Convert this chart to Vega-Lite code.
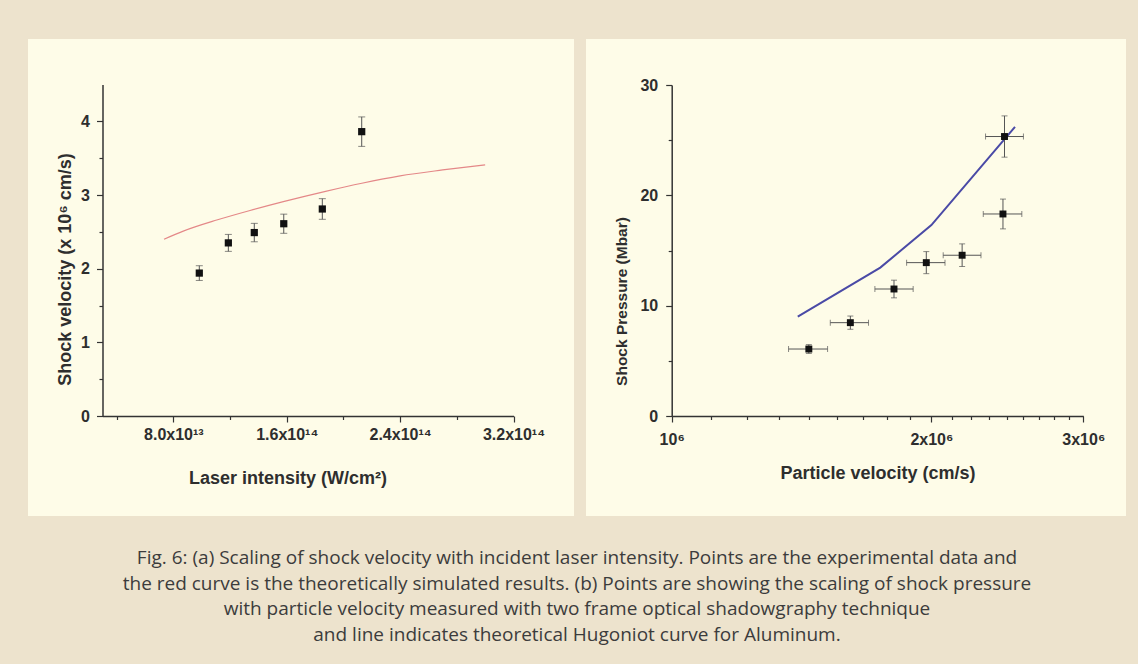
{
  "$schema": "https://vega.github.io/schema/vega-lite/v6.json",
  "background": "#ede3cd",
  "padding": {"left": 28, "top": 39, "right": 12, "bottom": 19},
  "spacing": 12,
  "title": {
    "text": [
      "Fig. 6: (a) Scaling of shock velocity with incident laser intensity. Points are the experimental data and",
      "the red curve is the theoretically simulated results. (b) Points are showing the scaling of shock pressure",
      "with particle velocity measured with two frame optical shadowgraphy technique",
      "and line indicates theoretical Hugoniot curve for Aluminum."
    ],
    "orient": "bottom",
    "anchor": "middle",
    "font": "Open Sans",
    "fontSize": 19,
    "fontWeight": "normal",
    "color": "#3c3c3c",
    "lineHeight": 25.5,
    "offset": 33
  },
  "config": {
    "view": {"fill": "#fefce8", "stroke": null},
    "axis": {
      "grid": false,
      "domainColor": "#333333",
      "domainWidth": 1.5,
      "tickColor": "#333333",
      "tickWidth": 1.2,
      "labelFont": "Liberation Sans",
      "labelFontWeight": "bold",
      "labelColor": "#2e2e2e",
      "labelFlush": false,
      "labelOverlap": false,
      "labelBound": false,
      "titleFont": "Liberation Sans",
      "titleFontWeight": "bold",
      "titleColor": "#2e2e2e"
    }
  },
  "datasets": {
    "sim": [
      {"I": 7.34e13, "V": 2.40},
      {"I": 8.7e13, "V": 2.51},
      {"I": 1.106e14, "V": 2.66},
      {"I": 1.341e14, "V": 2.79},
      {"I": 1.576e14, "V": 2.91},
      {"I": 1.874e14, "V": 3.05},
      {"I": 2.13e14, "V": 3.16},
      {"I": 2.4e14, "V": 3.26},
      {"I": 2.7e14, "V": 3.34},
      {"I": 3.0e14, "V": 3.41}
    ],
    "expA": [
      {"I": 9.83e13, "V": 1.94, "Vlo": 1.84, "Vhi": 2.04},
      {"I": 1.188e14, "V": 2.35, "Vlo": 2.235, "Vhi": 2.465},
      {"I": 1.371e14, "V": 2.49, "Vlo": 2.365, "Vhi": 2.615},
      {"I": 1.579e14, "V": 2.61, "Vlo": 2.48, "Vhi": 2.74},
      {"I": 1.851e14, "V": 2.81, "Vlo": 2.67, "Vhi": 2.95},
      {"I": 2.129e14, "V": 3.86, "Vlo": 3.66, "Vhi": 4.06}
    ],
    "hug": [
      {"U": 1400000, "P": 9.0},
      {"U": 1745000, "P": 13.45},
      {"U": 2000000, "P": 17.3},
      {"U": 2500000, "P": 26.2}
    ],
    "expB": [
      {"U": 1442000, "Ulo": 1366000, "Uhi": 1516000, "P": 6.07, "Plo": 5.67, "Phi": 6.47},
      {"U": 1611000, "Ulo": 1527000, "Uhi": 1691000, "P": 8.46, "Plo": 7.86, "Phi": 9.06},
      {"U": 1810000, "Ulo": 1720000, "Uhi": 1905000, "P": 11.51, "Plo": 10.71, "Phi": 12.31},
      {"U": 1973000, "Ulo": 1872000, "Uhi": 2074000, "P": 13.9, "Plo": 12.9, "Phi": 14.9},
      {"U": 2171000, "Ulo": 2064000, "Uhi": 2283000, "P": 14.57, "Plo": 13.55, "Phi": 15.6},
      {"U": 2421000, "Ulo": 2297000, "Uhi": 2546000, "P": 18.31, "Plo": 16.96, "Phi": 19.66},
      {"U": 2431000, "Ulo": 2311000, "Uhi": 2557000, "P": 25.33, "Plo": 23.46, "Phi": 27.2}
    ]
  },
  "hconcat": [
    {
      "width": 546,
      "height": 477,
      "layer": [
        {
          "data": {"name": "sim"},
          "mark": {"type": "line", "color": "#e48888", "strokeWidth": 1.2, "interpolate": "monotone"},
          "encoding": {
            "x": {
              "field": "I", "type": "quantitative", "title": "Laser intensity (W/cm²)",
              "scale": {"domain": [3e13, 3.2e14], "range": [74.5, 485.5], "nice": false, "zero": false},
              "axis": {
                "orient": "bottom", "offset": -100,
                "values": [4e13, 8e13, 1.2e14, 1.6e14, 2e14, 2.4e14, 2.8e14, 3.2e14],
                "labelExpr": "datum.value == 8e13 ? '8.0x10¹³' : datum.value == 1.6e14 ? '1.6x10¹⁴' : datum.value == 2.4e14 ? '2.4x10¹⁴' : datum.value == 3.2e14 ? '3.2x10¹⁴' : ''",
                "tickSize": {"condition": {"test": "datum.value == 8e13 || datum.value == 1.6e14 || datum.value == 2.4e14 || datum.value == 3.2e14", "value": 6}, "value": 3.5},
                "labelFontSize": 16, "labelPadding": 4,
                "titleFontSize": 18, "titlePadding": 27, "titleX": 259.5
              }
            },
            "y": {
              "field": "V", "type": "quantitative", "title": "Shock velocity (x 10⁶ cm/s)",
              "scale": {"domain": [0, 4.5], "range": [377, 45.5], "nice": false, "zero": false},
              "axis": {
                "orient": "left", "offset": -74.5,
                "values": [0, 0.5, 1, 1.5, 2, 2.5, 3, 3.5, 4],
                "labelExpr": "datum.value % 1 === 0 ? format(datum.value, 'd') : ''",
                "tickSize": {"condition": {"test": "datum.value % 1 === 0", "value": 6}, "value": 3.5},
                "labelFontSize": 16, "labelPadding": 7,
                "titleFontSize": 18, "titlePadding": 6, "titleY": 230
              }
            }
          }
        },
        {
          "mark": {"type": "rule", "color": "#333333", "strokeWidth": 1.5},
          "encoding": {
            "x": {"datum": 3e13, "type": "quantitative", "title": "Laser intensity (W/cm²)"},
            "x2": {"datum": 3.2e14},
            "y": {"datum": 4.5, "type": "quantitative", "title": "Shock velocity (x 10⁶ cm/s)"}
          }
        },
        {
          "mark": {"type": "rule", "color": "#333333", "strokeWidth": 1.5},
          "encoding": {
            "x": {"datum": 3.2e14, "type": "quantitative", "title": "Laser intensity (W/cm²)"},
            "y": {"datum": 0, "type": "quantitative", "title": "Shock velocity (x 10⁶ cm/s)"},
            "y2": {"datum": 4.5}
          }
        },
        {
          "data": {"name": "expA"},
          "mark": {"type": "errorbar", "color": "#555555", "thickness": 1, "ticks": {"size": 7, "thickness": 1}},
          "encoding": {
            "x": {"field": "I", "type": "quantitative", "title": "Laser intensity (W/cm²)"},
            "y": {"field": "Vlo", "type": "quantitative", "title": "Shock velocity (x 10⁶ cm/s)"},
            "y2": {"field": "Vhi"}
          }
        },
        {
          "data": {"name": "expA"},
          "mark": {"type": "square", "size": 52, "filled": true, "color": "#111111", "opacity": 1},
          "encoding": {
            "x": {"field": "I", "type": "quantitative", "title": "Laser intensity (W/cm²)"},
            "y": {"field": "V", "type": "quantitative", "title": "Shock velocity (x 10⁶ cm/s)"}
          }
        }
      ]
    },
    {
      "width": 540,
      "height": 477,
      "layer": [
        {
          "data": {"name": "hug"},
          "mark": {"type": "line", "color": "#4a4aa6", "strokeWidth": 2},
          "encoding": {
            "x": {
              "field": "U", "type": "quantitative", "title": "Particle velocity (cm/s)",
              "scale": {"type": "log", "domain": [1000000, 3000000], "range": [85.7, 497.3], "nice": false, "zero": false},
              "axis": {
                "orient": "bottom", "offset": -100,
                "values": [1000000, 1111111, 1222222, 1333333, 1444444, 1555556, 1666667, 1777778, 1888889, 2000000, 2111111, 2222222, 2333333, 2444444, 2555556, 2666667, 2777778, 2888889, 3000000],
                "labelExpr": "datum.value == 1000000 ? '10⁶' : datum.value == 2000000 ? '2x10⁶' : datum.value == 3000000 ? '3x10⁶' : ''",
                "tickSize": {"condition": {"test": "datum.value == 1000000 || datum.value == 2000000 || datum.value == 3000000", "value": 6}, "value": 3.5},
                "labelFontSize": 16, "labelPadding": 9,
                "titleFontSize": 18, "titlePadding": 17
              }
            },
            "y": {
              "field": "P", "type": "quantitative", "title": "Shock Pressure (Mbar)",
              "scale": {"domain": [0, 30], "range": [377, 46], "nice": false, "zero": false},
              "axis": {
                "orient": "left", "offset": -85.7,
                "values": [0, 5, 10, 15, 20, 25, 30],
                "labelExpr": "datum.value % 10 === 0 ? datum.label : ''",
                "tickSize": {"condition": {"test": "datum.value % 10 === 0", "value": 6}, "value": 3.5},
                "labelFontSize": 16, "labelPadding": 8,
                "titleFontSize": 15.5, "titlePadding": 10, "titleY": 262
              }
            }
          }
        },
        {
          "mark": {"type": "rule", "color": "#333333", "strokeWidth": 1.5},
          "encoding": {
            "x": {"datum": 1000000, "type": "quantitative", "title": "Particle velocity (cm/s)"},
            "x2": {"datum": 3000000},
            "y": {"datum": 30, "type": "quantitative", "title": "Shock Pressure (Mbar)"}
          }
        },
        {
          "mark": {"type": "rule", "color": "#333333", "strokeWidth": 1.5},
          "encoding": {
            "x": {"datum": 3000000, "type": "quantitative", "title": "Particle velocity (cm/s)"},
            "y": {"datum": 0, "type": "quantitative", "title": "Shock Pressure (Mbar)"},
            "y2": {"datum": 30}
          }
        },
        {
          "data": {"name": "expB"},
          "mark": {"type": "errorbar", "color": "#555555", "thickness": 1, "ticks": {"size": 6, "thickness": 1}},
          "encoding": {
            "x": {"field": "U", "type": "quantitative", "title": "Particle velocity (cm/s)"},
            "y": {"field": "Plo", "type": "quantitative", "title": "Shock Pressure (Mbar)"},
            "y2": {"field": "Phi"}
          }
        },
        {
          "data": {"name": "expB"},
          "mark": {"type": "errorbar", "color": "#555555", "thickness": 1, "ticks": {"size": 6, "thickness": 1}},
          "encoding": {
            "y": {"field": "P", "type": "quantitative", "title": "Shock Pressure (Mbar)"},
            "x": {"field": "Ulo", "type": "quantitative", "title": "Particle velocity (cm/s)"},
            "x2": {"field": "Uhi"}
          }
        },
        {
          "data": {"name": "expB"},
          "mark": {"type": "square", "size": 48, "filled": true, "color": "#111111", "opacity": 1},
          "encoding": {
            "x": {"field": "U", "type": "quantitative", "title": "Particle velocity (cm/s)"},
            "y": {"field": "P", "type": "quantitative", "title": "Shock Pressure (Mbar)"}
          }
        }
      ]
    }
  ]
}
